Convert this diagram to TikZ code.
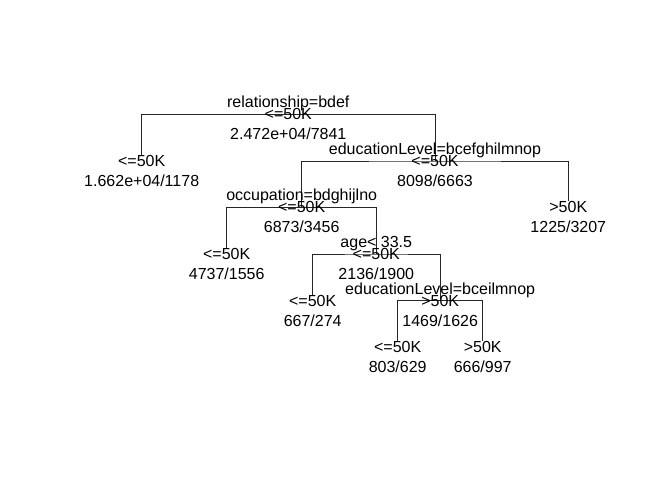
\documentclass[tikz,border=0pt]{standalone}
\usepackage{fontspec}
\setmainfont{Liberation Sans}
\begin{document}
\begin{tikzpicture}[x=1bp,y=-1bp,
  txt/.style={anchor=base,inner sep=0pt,font=\fontsize{16bp}{19bp}\selectfont},
  branch/.style={draw=black!85,line width=0.9bp}]
\useasboundingbox (0,0) rectangle (672,480);
% tree node positions (x, level)
\coordinate (root)  at (288.3,114.5);
\coordinate (edua)  at (435,161);
\coordinate (occ)   at (301.7,207.5);
\coordinate (age)   at (376.3,254);
\coordinate (edub)  at (440.2,300.5);
% leaf tops (line ends)
\coordinate (lfa) at (141.7,155);
\coordinate (lfb) at (568.3,201.5);
\coordinate (lfc) at (226.7,248);
\coordinate (lfd) at (312.7,294.5);
\coordinate (lfe) at (397.7,341);
\coordinate (lff) at (482.7,341);
% branches
\draw[branch] (lfa) |- (root) -| (edua);
\draw[branch] (occ) |- (edua) -| (lfb);
\draw[branch] (lfc) |- (occ) -| (age);
\draw[branch] (lfd) |- (age) -| (edub);
\draw[branch] (lfe) |- (edub) -| (lff);
% internal node texts
\node[txt] (roots) at (288.3,108) {relationship=bdef};
\node[txt] (rootc) at (288.3,120) {<=50K};
\node[txt] (rootn) at (288.3,140) {2.472e+04/7841};
\node[txt] (eduas) at (435,154.5) {educationLevel=bcefghilmnop};
\node[txt] (eduac) at (435,166.5) {<=50K};
\node[txt] (eduan) at (435,186.5) {8098/6663};
\node[txt] (occs) at (301.7,201) {occupation=bdghijlno};
\node[txt] (occc) at (301.7,213) {<=50K};
\node[txt] (occn) at (301.7,233) {6873/3456};
\node[txt] (ages) at (376.3,247.5) {age< 33.5};
\node[txt] (agec) at (376.3,259.5) {<=50K};
\node[txt] (agen) at (376.3,279.5) {2136/1900};
\node[txt] (edubs) at (440.2,294) {educationLevel=bceilmnop};
\node[txt] (edubc) at (440.2,306) {>50K};
\node[txt] (edubn) at (440.2,326) {1469/1626};
% leaf texts
\node[txt] (lfac) at (141.7,166.5) {<=50K};
\node[txt] (lfan) at (141.7,186.5) {1.662e+04/1178};
\node[txt] (lfbc) at (568.3,213) {>50K};
\node[txt] (lfbn) at (568.3,233) {1225/3207};
\node[txt] (lfcc) at (226.7,259.5) {<=50K};
\node[txt] (lfcn) at (226.7,279.5) {4737/1556};
\node[txt] (lfdc) at (312.7,306) {<=50K};
\node[txt] (lfdn) at (312.7,326) {667/274};
\node[txt] (lfec) at (397.7,352.5) {<=50K};
\node[txt] (lfen) at (397.7,372.5) {803/629};
\node[txt] (lffc) at (482.7,352.5) {>50K};
\node[txt] (lffn) at (482.7,372.5) {666/997};
\end{tikzpicture}
\end{document}
